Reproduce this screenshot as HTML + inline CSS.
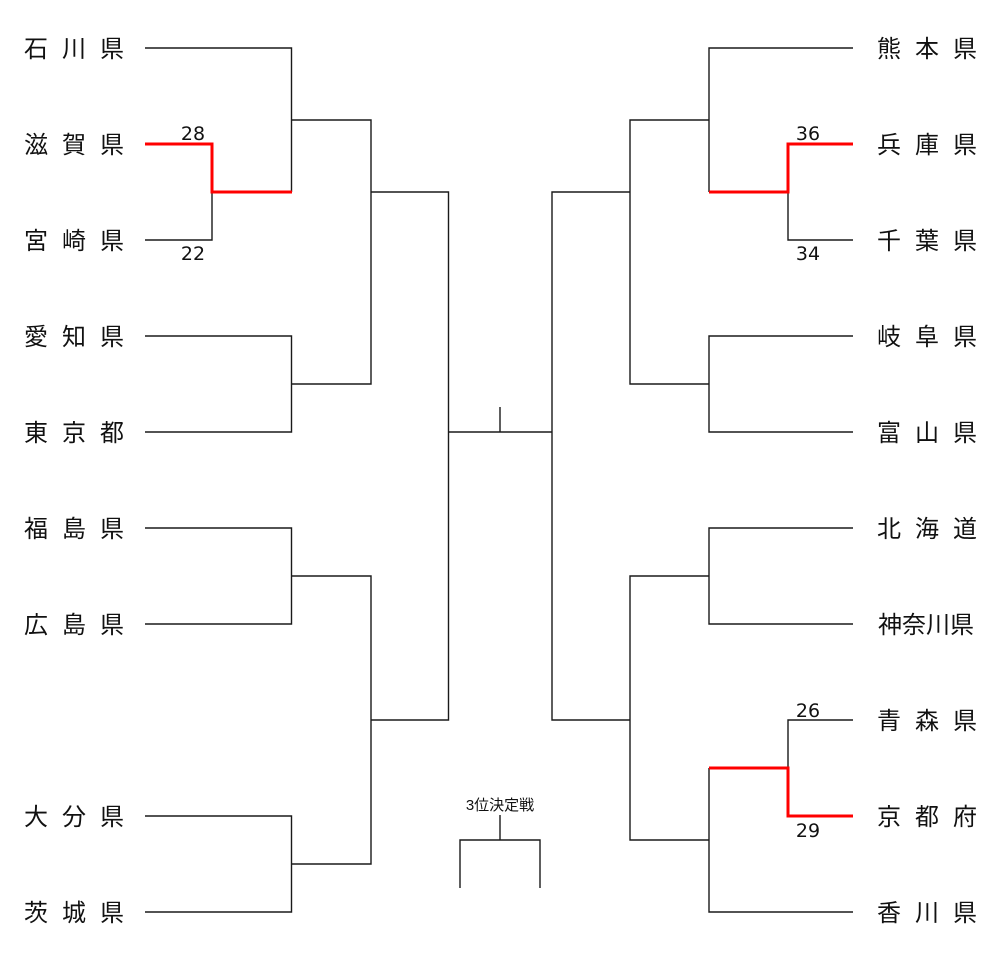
<!DOCTYPE html>
<html><head><meta charset="utf-8">
<style>
html,body{margin:0;padding:0;background:#fff;}
svg{display:block;}
.n{font-family:"Liberation Sans","Noto Sans CJK JP",sans-serif;font-size:24px;fill:#111;letter-spacing:14px;}
.n4{font-family:"Liberation Sans","Noto Sans CJK JP",sans-serif;font-size:24px;fill:#111;}
.s{font-family:"DejaVu Sans","Liberation Sans",sans-serif;font-size:19px;fill:#111;}
.t{font-family:"Liberation Sans","Noto Sans CJK JP",sans-serif;font-size:15px;fill:#111;}
</style></head>
<body>
<svg width="1000" height="968" viewBox="0 0 1000 968" xmlns="http://www.w3.org/2000/svg">
<g fill="none" stroke="#1a1a1a" stroke-width="1.4">
<polyline points="145,48 291.5,48 291.5,192"/>
<polyline points="145,240 212,240 212,192"/>
<polyline points="145,336 291.5,336 291.5,432 145,432"/>
<polyline points="145,528 291.5,528 291.5,624 145,624"/>
<polyline points="145,816 291.5,816 291.5,912 145,912"/>
<polyline points="291.5,120 371,120 371,384 291.5,384"/>
<polyline points="291.5,576 371,576 371,864 291.5,864"/>
<polyline points="371,192 448.5,192 448.5,720 371,720"/>
<line x1="448.5" y1="432" x2="552" y2="432"/>
<line x1="500" y1="407" x2="500" y2="432"/>
<polyline points="630,192 552,192 552,720 630,720"/>
<polyline points="709,120 630,120 630,384 709,384"/>
<polyline points="709,576 630,576 630,840 709,840"/>
<polyline points="853,48 709,48 709,192"/>
<polyline points="853,240 788,240 788,192"/>
<polyline points="853,336 709,336 709,432 853,432"/>
<polyline points="853,528 709,528 709,624 853,624"/>
<polyline points="853,720 788,720 788,768"/>
<polyline points="709,768 709,912 853,912"/>
<line x1="500" y1="815" x2="500" y2="840"/>
<polyline points="460,888 460,840 540,840 540,888"/>
</g>
<g fill="none" stroke="#ff0000" stroke-width="3">
<polyline points="145,144 212,144 212,192 292,192"/>
<polyline points="853,144 788,144 788,192 709,192"/>
<polyline points="709,768 788,768 788,816 853,816"/>
</g>
<g class="n">
<text x="24" y="57">石川県</text>
<text x="24" y="153">滋賀県</text>
<text x="24" y="249">宮崎県</text>
<text x="24" y="345">愛知県</text>
<text x="24" y="441">東京都</text>
<text x="24" y="537">福島県</text>
<text x="24" y="633">広島県</text>
<text x="24" y="825">大分県</text>
<text x="24" y="921">茨城県</text>
</g>
<g class="n">
<text x="877" y="57">熊本県</text>
<text x="877" y="153">兵庫県</text>
<text x="877" y="249">千葉県</text>
<text x="877" y="345">岐阜県</text>
<text x="877" y="441">富山県</text>
<text x="877" y="537">北海道</text>
<text x="877" y="729">青森県</text>
<text x="877" y="825">京都府</text>
<text x="877" y="921">香川県</text>
</g>
<text class="n4" x="878" y="633">神奈川県</text>
<g class="s" text-anchor="middle">
<text x="193" y="140">28</text>
<text x="193" y="260">22</text>
<text x="808" y="140">36</text>
<text x="808" y="260">34</text>
<text x="808" y="717">26</text>
<text x="808" y="837">29</text>
</g>
<text class="t" x="500" y="810" text-anchor="middle">3位決定戦</text>
</svg>
</body></html>
